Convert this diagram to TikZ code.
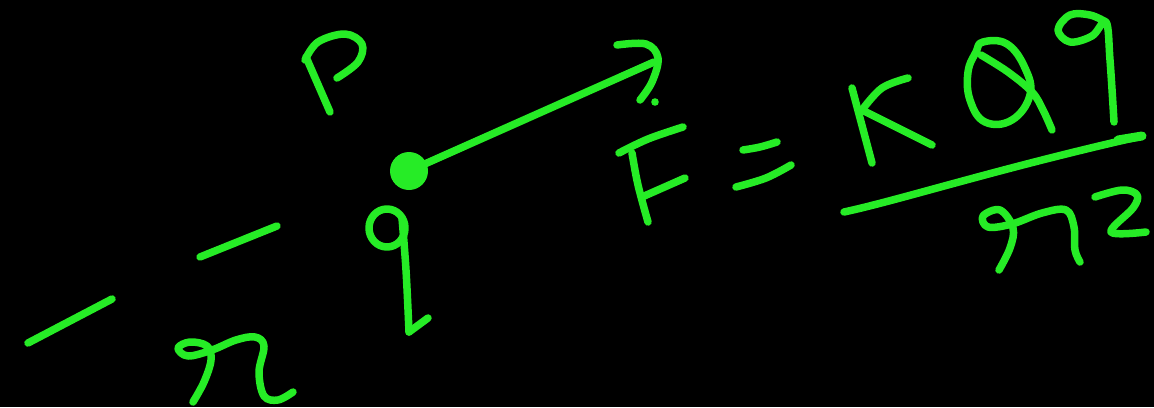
\documentclass[tikz,border=0pt]{standalone}
\usetikzlibrary{calc}
\definecolor{pen}{RGB}{38,236,38}
\begin{document}
\begin{tikzpicture}[x=1pt,y=-1pt,
  ink/.style={draw=pen,line width=7.5pt,line cap=round,line join=round},
  sm/.style={smooth,tension=0.6}]
\fill[black] (0,0) rectangle (1154,407);
\useasboundingbox (0,0) rectangle (1154,407);
% dashes (field line)
\draw[ink] (28,343) -- (112,299);
\draw[ink] (200,257) -- (277,226);
% r below
\draw[ink] plot[sm] coordinates {(193,402) (204,382) (211,360) (207,346) (190,342) (178,348) (188,356) (212,350) (236,340) (255,337) (264,346) (259,372) (264,396) (278,400) (293,392)};
% q
\draw[ink] (387,228) ellipse [x radius=18,y radius=19];
\draw[ink] plot[sm] coordinates {(402,218) (406,270) (409,332)};
\draw[ink] (409,332) -- (428,318);
% P
\draw[ink] (330,112) -- (306,57);
\draw[ink] plot[sm] coordinates {(305,60) (318,42) (345,34) (362,44) (358,62) (337,78)};
% charge dot and force arrow
\node[circle,fill=pen,inner sep=0pt,minimum size=38pt] (q) at (409,171) {};
\coordinate (tip) at (654,62);
\draw[ink] (q.center) -- (tip);
\draw[ink] plot[sm] coordinates {(617,45) (646,44) (658,58) (652,82) (640,100)};
\fill[pen] (655,102) circle (3.8);
% F
\draw[ink] plot[sm] coordinates {(619,153) (648,139) (683,127)};
\draw[ink] plot[sm] coordinates {(632,153) (638,185) (648,222)};
\draw[ink] (642,197) -- (685,178);
% =
\draw[ink] plot[sm] coordinates {(743,150) (760,147) (777,142)};
\draw[ink] plot[sm] coordinates {(736,187) (766,178) (791,165)};
% K
\draw[ink] (852,88) -- (872,163);
\draw[ink] plot[sm] coordinates {(908,78) (882,88) (862,110)};
\draw[ink] (862,110) -- (932,145);
% Q
\draw[ink] plot[smooth cycle,tension=0.7] coordinates {(983,42) (1007,44) (1025,68) (1030,95) (1012,120) (985,122) (970,100) (968,72) (976,52)};
\draw[ink] plot[sm] coordinates {(981,55) (1008,72) (1032,92) (1043,110) (1052,130)};
% 9
\draw[ink] plot[sm] coordinates {(1106,22) (1090,15) (1070,15) (1058,30) (1070,42) (1092,36) (1106,22) (1110,60) (1114,122)};
% fraction bar
\draw[ink] (844,212) .. controls (900,200) and (1000,168) .. (1142,136);
\draw[ink,line width=9pt] (1118,140) -- (1142,136);
% r^2 denominator
\draw[ink] plot[sm] coordinates {(999,270) (1010,248) (1013,228) (1000,210) (983,216) (988,227) (1012,224) (1042,213) (1066,210) (1074,227) (1075,250) (1080,262)};
\draw[ink] plot[sm] coordinates {(1095,197) (1122,190) (1137,195) (1133,208) (1111,232) (1146,232)};
\end{tikzpicture}
\end{document}
